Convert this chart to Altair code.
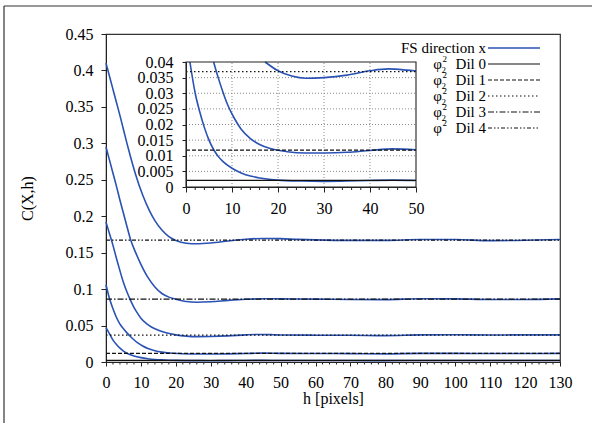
import altair as alt
import pandas as pd

FONT = "'Liberation Serif', 'Times New Roman', Times, 'DejaVu Serif', serif"
BLUE = "#2a52b4"

# ---------------- data ----------------
h_curve1 = [0, 0.85, 2, 3, 4, 5, 6, 7, 8, 10, 12, 14, 16, 18, 20, 25, 30, 35, 40, 45, 50, 60, 70, 80, 90, 100, 110, 120, 130]
c_curve1 = [0.047, 0.040, 0.030, 0.024, 0.019, 0.015, 0.012, 0.0098, 0.0082, 0.0060, 0.0045, 0.0035, 0.0029, 0.0025, 0.0022,
            0.0019, 0.0018, 0.0019, 0.0021, 0.0022, 0.0021, 0.0020, 0.0020, 0.0019, 0.0021, 0.0021, 0.0020, 0.0021, 0.0021]

h_curve2 = [0, 1, 2, 3, 4, 5, 6, 7, 8, 9, 10.5, 12, 14, 16, 18.3, 22, 26, 30, 35, 40, 45, 50, 60, 70, 80, 90, 100, 110, 120, 130]
c_curve2 = [0.106, 0.087, 0.073, 0.061, 0.052, 0.0455, 0.040, 0.035, 0.0305, 0.0265, 0.022, 0.0185, 0.0155, 0.0136, 0.0123,
            0.0113, 0.0109, 0.0109, 0.0111, 0.0117, 0.0122, 0.0119, 0.0117, 0.0115, 0.0112, 0.0118, 0.0118, 0.0116, 0.0117, 0.0118]

h_curve3 = [0, 1, 2, 3, 4, 5, 6, 7, 8, 9, 10, 11.5, 13, 15, 17.2, 20, 23, 26, 30, 35, 40, 44, 48, 50, 60, 70, 80, 90, 100, 110, 120, 130]
c_curve3 = [0.192, 0.176, 0.160, 0.142, 0.125, 0.109, 0.096, 0.085, 0.075, 0.067, 0.060, 0.053, 0.048, 0.0435, 0.040, 0.0372,
            0.0355, 0.0348, 0.0350, 0.0358, 0.0372, 0.0378, 0.0374, 0.0371, 0.0368, 0.0367, 0.0362, 0.0372, 0.0374, 0.0371, 0.0372, 0.0372]

h_curve4 = [0, 1, 2, 3, 4, 5, 6, 7.1, 8.5, 10, 12, 14, 16, 18, 20, 23, 26, 30, 35, 40, 45, 50, 60, 70, 80, 90, 100, 110, 120, 130]
c_curve4 = [0.295, 0.277, 0.259, 0.241, 0.222, 0.204, 0.186, 0.167, 0.150, 0.134, 0.116, 0.103, 0.094, 0.089, 0.0862, 0.0830,
            0.0820, 0.0826, 0.0845, 0.0860, 0.0868, 0.0866, 0.0862, 0.0858, 0.0856, 0.0868, 0.0866, 0.0858, 0.0858, 0.0866]

h_curve5 = [0, 1, 2, 3, 4, 5, 6, 7, 8.5, 10.5, 12.5, 14, 16, 18, 20, 23, 26, 30, 35, 40, 45, 50, 55, 60, 70, 80, 90, 100, 110, 120, 130]
c_curve5 = [0.410, 0.392, 0.374, 0.356, 0.338, 0.319, 0.300, 0.282, 0.257, 0.229, 0.207, 0.194, 0.181, 0.1720, 0.1668, 0.1630,
            0.1622, 0.1632, 0.1660, 0.1685, 0.1695, 0.1692, 0.1682, 0.1675, 0.1668, 0.1668, 0.1680, 0.1680, 0.1665, 0.1670, 0.1680]

dil_names = ["Dil 0", "Dil 1", "Dil 2", "Dil 3", "Dil 4"]
dil_levels = [0.0021, 0.0118, 0.0369, 0.0863, 0.1672]

series_names = ["FS direction x"] + dil_names
dash_patterns = [[1, 0], [1, 0], [4, 2], [1.5, 2.5], [6, 2, 1.5, 2], [4, 2, 1.5, 2, 1.5, 2]]

x_ticks_main = list(range(0, 131, 10))
x_minor_main = [v for v in range(0, 131, 2) if v % 10]
y_ticks_main = [0, 0.05, 0.1, 0.15, 0.2, 0.25, 0.3, 0.35, 0.4, 0.45]
x_ticks_inset = [0, 10, 20, 30, 40, 50]
x_minor_inset = [v for v in range(0, 51, 2) if v % 10]
y_ticks_inset = [0, 0.005, 0.01, 0.015, 0.02, 0.025, 0.03, 0.035, 0.04]

# ---------------- tables ----------------
rows = []
for i, (hs, cs) in enumerate([(h_curve1, c_curve1), (h_curve2, c_curve2), (h_curve3, c_curve3),
                              (h_curve4, c_curve4), (h_curve5, c_curve5)]):
    for h, c in zip(hs, cs):
        rows.append({"h": h, "c": c, "curve": i})
curves = pd.DataFrame(rows)
refs = pd.DataFrame({"name": dil_names, "c": dil_levels, "h": 0, "h2": 130})
refs_in = pd.DataFrame({"name": dil_names[:3], "c": dil_levels[:3], "h": 0, "h2": 50})
legend_df = pd.DataFrame({"row": list(range(6)), "label": ["FS direction x"] + dil_names,
                          "name": series_names, "lx": 0, "lx2": 1})
one = pd.DataFrame({"a": [0]})

W, H = 454, 328

dash_enc = alt.StrokeDash("name:N", scale=alt.Scale(domain=series_names, range=dash_patterns), legend=None)

# ---------------- main plot ----------------
XM = alt.X("h:Q", scale=alt.Scale(domain=[0, 130], nice=False),
           axis=alt.Axis(orient="bottom", values=x_ticks_main, format="d", title="h [pixels]",
                         tickSize=4, labelPadding=8, labelFlush=False, labelOverlap=False,
                         titleY=36, titleBaseline="middle", titleAlign="center"))
YM = alt.Y("c:Q", scale=alt.Scale(domain=[0, 0.45], nice=False),
           axis=alt.Axis(orient="left", values=y_ticks_main, format="~f", title="C(X,h)",
                         tickSize=5, labelPadding=8, labelFlush=False, labelOverlap=False,
                         titleX=-79, titleY=H / 2, titleBaseline="middle", titleAlign="center"))

main_curves = alt.Chart(curves).mark_line(color=BLUE, strokeWidth=1.6, interpolate="monotone").encode(
    x=XM, y=YM, detail="curve:N")
main_refs = alt.Chart(refs).mark_rule(color="#111", strokeWidth=1.2).encode(
    x=XM, x2="h2:Q", y=YM, strokeDash=dash_enc)
main_minor = alt.Chart(pd.DataFrame({"h": x_minor_main})).mark_rule(color="#222").encode(
    x=XM, y=alt.value(H), y2=alt.value(H + 2.5))
frame_top = alt.Chart(one).mark_rule(color="#333", strokeWidth=1.2).encode(
    x=alt.value(-102), x2=alt.value(490), y=alt.value(-28))
frame_left = alt.Chart(one).mark_rule(color="#333", strokeWidth=1.2).encode(
    x=alt.value(-102), y=alt.value(-28), y2=alt.value(395))
main = alt.layer(main_curves, main_refs, main_minor, frame_top, frame_left)

# ---------------- inset ----------------
XI = alt.X("h:Q", scale=alt.Scale(domain=[0, 50], range=[80, 310], nice=False),
           axis=alt.Axis(orient="bottom", offset=-(H - 153), values=x_ticks_inset, format="d", title=None,
                         tickSize=5, labelPadding=8, labelFlush=False, labelOverlap=False, zindex=2))
YI = alt.Y("c:Q", scale=alt.Scale(domain=[0, 0.04], range=[153, 28], nice=False),
           axis=alt.Axis(orient="left", offset=-80, values=y_ticks_inset, format="~f", title=None,
                         tickSize=4, labelPadding=9, labelFlush=False, labelOverlap=False, zindex=2))

inset_bg = alt.Chart(pd.DataFrame({"h": [0], "h2": [50], "c": [0], "c2": [0.04]})).mark_rect(
    color="white").encode(x=XI, x2="h2:Q", y=YI, y2="c2:Q")
grid_v = alt.Chart(pd.DataFrame({"h": x_ticks_inset[1:-1], "c": 0, "c2": 0.04})).mark_rule(
    color="#8a8a8a", strokeWidth=1, strokeDash=[1, 2]).encode(x=XI, y=YI, y2="c2:Q")
grid_h = alt.Chart(pd.DataFrame({"c": y_ticks_inset[1:-1], "h": 0, "h2": 50})).mark_rule(
    color="#8a8a8a", strokeWidth=1, strokeDash=[1, 2]).encode(x=XI, x2="h2:Q", y=YI)
inset_curves = alt.Chart(curves).transform_filter(
    (alt.datum.c <= 0.0401) & (alt.datum.h <= 50)).mark_line(
    color=BLUE, strokeWidth=1.6, interpolate="monotone").encode(x=XI, y=YI, detail="curve:N")
inset_refs = alt.Chart(refs_in).mark_rule(color="#111", strokeWidth=1.2).encode(
    x=XI, x2="h2:Q", y=YI, strokeDash=dash_enc)
inset_minor = alt.Chart(pd.DataFrame({"h": x_minor_inset})).mark_rule(color="#222").encode(
    x=XI, y=alt.value(153), y2=alt.value(156))
inset_frame = alt.Chart(pd.DataFrame({"h": [0], "h2": [50], "c": [0], "c2": [0.04]})).mark_rect(
    filled=False, color="#222", strokeWidth=1.1).encode(x=XI, x2="h2:Q", y=YI, y2="c2:Q")
inset = alt.layer(inset_bg, grid_v, grid_h, inset_curves, inset_refs, inset_minor, inset_frame)

# ---------------- legend ----------------
XL = alt.X("lx:Q", scale=alt.Scale(domain=[0, 1], range=[382, 434]), axis=None)
YL = alt.Y("row:Q", scale=alt.Scale(domain=[0, 5], range=[14, 94]), axis=None)

leg_fs = alt.Chart(legend_df).transform_filter(alt.datum.row == 0).mark_rule(
    color=BLUE, strokeWidth=1.6).encode(x=XL, x2="lx2:Q", y=YL)
leg_dil = alt.Chart(legend_df).transform_filter(alt.datum.row > 0).mark_rule(
    color="#111", strokeWidth=1.2).encode(x=XL, x2="lx2:Q", y=YL, strokeDash=dash_enc)
leg_text = alt.Chart(legend_df).mark_text(align="right", baseline="middle", dx=-2, font=FONT,
                                          fontSize=15, color="black").encode(x=XL, y=YL, text="label:N")
leg_phi = alt.Chart(legend_df).transform_filter(alt.datum.row > 0).mark_text(
    align="right", baseline="middle", dx=-46, font=FONT, fontSize=15, color="black").encode(
    x=XL, y=YL, text=alt.value("φ"))
leg_sup = alt.Chart(legend_df).transform_filter(alt.datum.row > 0).mark_text(
    align="left", baseline="middle", dx=-45.5, dy=-5.5, font=FONT, fontSize=9, color="black").encode(
    x=XL, y=YL, text=alt.value("2"))
leg_sub = alt.Chart(legend_df).transform_filter((alt.datum.row > 0) & (alt.datum.row < 5)).mark_text(
    align="left", baseline="middle", dx=-46.5, dy=5.5, font=FONT, fontSize=9, color="black").encode(
    x=XL, y=YL, text=alt.value("2"))
legend = alt.layer(leg_fs, leg_dil, leg_text, leg_phi, leg_sup, leg_sub)

chart = alt.layer(main, inset, legend).resolve_scale(
    x="independent", y="independent"
).properties(
    width=W, height=H,
    autosize=alt.AutoSizeParams(type="none"),
    padding={"left": 106, "top": 34, "right": 32, "bottom": 61},
).configure(
    font=FONT
).configure_view(
    stroke="#333", strokeWidth=1.2
).configure_axis(
    labelFont=FONT, titleFont=FONT, labelFontSize=16, titleFontSize=16,
    labelColor="black", titleColor="black", domainColor="#222", tickColor="#222",
    grid=False, titleFontWeight="normal"
).configure_text(
    font=FONT
)

chart.save("out.html", embed_options={"renderer": "svg", "actions": False})
